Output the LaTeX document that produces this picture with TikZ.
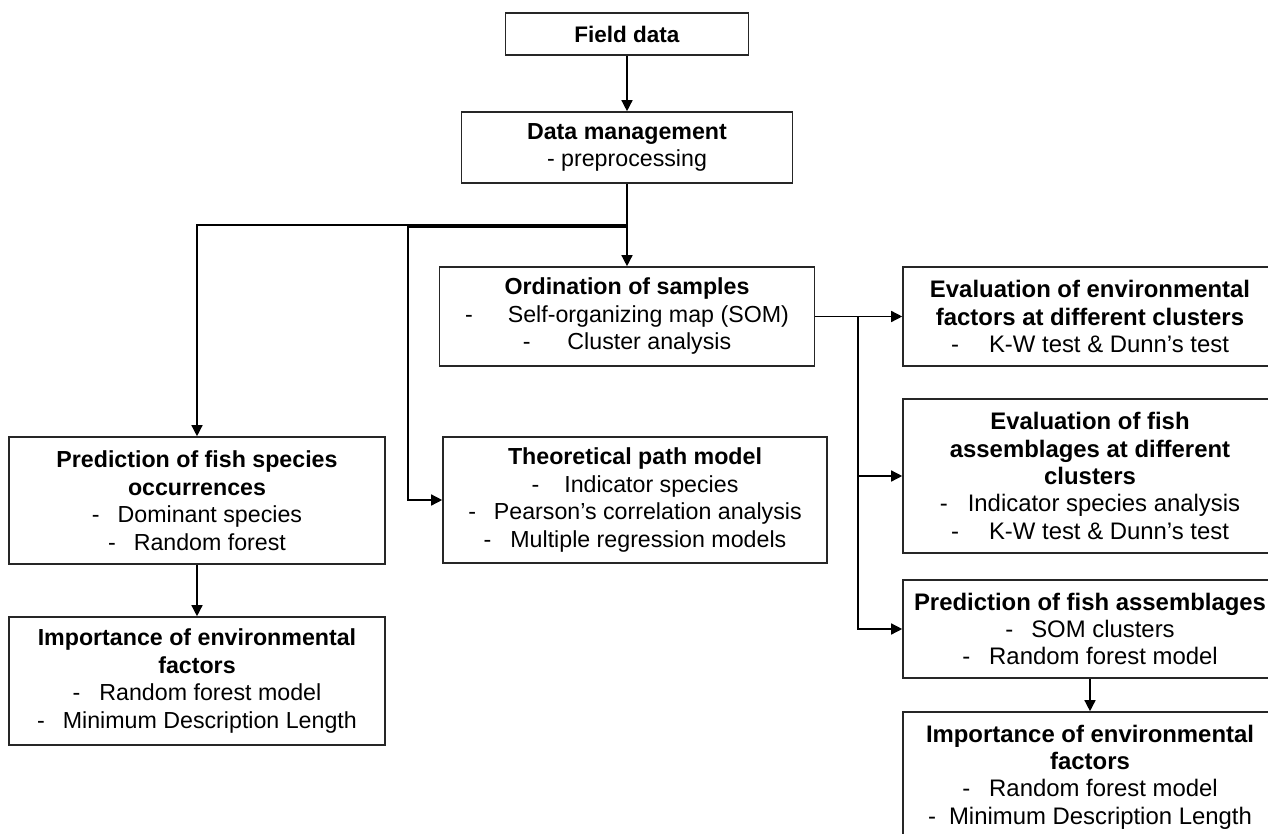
\documentclass[tikz,border=0pt]{standalone}
\usepackage{fontspec}
\setmainfont{Liberation Sans}
\usetikzlibrary{arrows.meta}
\newcommand{\dl}[2]{-\hspace{#1pt}#2}
\begin{document}
\begin{tikzpicture}[x=1pt,y=-1pt,
  box/.style={draw=black!85, line width=1.6pt, inner sep=0pt, align=center,
    font=\fontsize{23.2}{27.5}\selectfont},
  rbox/.style={box, font=\fontsize{23.9}{27.3}\selectfont},
  arr/.style={line width=1.4pt, -{Triangle[length=11pt,width=11pt]}}]
\useasboundingbox (0,0) rectangle (1268,834);
\clip (0,0) rectangle (1268,834);
\fill[white] (0,0) rectangle (1268,834);

\node[box, font=\fontsize{22.5}{27}\selectfont, minimum width=243, minimum height=42] (fd) at (627,34) {\textbf{Field data}};
\node[box, minimum width=331, minimum height=71] (dm) at (627,147.5) {\textbf{Data management}\\- preprocessing};
\node[box, minimum width=375, minimum height=99] (ord) at (627,316.5)
  {\textbf{Ordination of samples}\\\dl{35}{Self-organizing map (SOM)}\\\dl{37}{Cluster analysis}};
\node[box, minimum width=384, minimum height=126] (theo) at (635,500)
  {\textbf{Theoretical path model}\\\dl{25}{Indicator species}\\\dl{18}{Pearson’s correlation analysis}\\\dl{19}{Multiple regression models}};
\node[box, minimum width=376, minimum height=127] (psp) at (197,500.5)
  {\textbf{Prediction of fish species}\\\textbf{occurrences}\\\dl{18}{Dominant species}\\\dl{18}{Random forest}};
\node[box, minimum width=376, minimum height=128] (imp1) at (197,681)
  {\textbf{Importance of environmental}\\\textbf{factors}\\\dl{19}{Random forest model}\\\dl{18}{Minimum Description Length}};
\node[rbox, minimum width=374, minimum height=99] (env) at (1090,316.5)
  {\textbf{Evaluation of environmental}\\\textbf{factors at different clusters}\\\dl{30}{K-W test \& Dunn’s test}};
\node[rbox, minimum width=374, minimum height=154] (fish) at (1090,476)
  {\textbf{Evaluation of fish}\\\textbf{assemblages at different}\\\textbf{clusters}\\\dl{20}{Indicator species analysis}\\\dl{30}{K-W test \& Dunn’s test}};
\node[rbox, minimum width=374, minimum height=98] (pas) at (1090,629)
  {\textbf{Prediction of fish assemblages}\\\dl{18}{SOM clusters}\\\dl{19}{Random forest model}};
\node[rbox, minimum width=374, minimum height=130] (imp2) at (1090,777)
  {\textbf{Importance of environmental}\\\textbf{factors}\\\dl{19}{Random forest model}\\\dl{13}{Minimum Description Length}};

\coordinate (b1) at (627,225);
\coordinate (b2) at (627,227);
\coordinate (t1) at (408,227);
\coordinate (s1) at (858,317);

\draw[arr] (fd.south) -- (dm.north);
\draw[arr] (dm.south) -- (ord.north);
\draw[arr] (b1) -| (psp.north);
\draw[arr] (b2) -- (t1) |- (theo.west);
\draw[arr] (psp.south) -- (imp1.north);
\draw[arr] (ord.east) -- (env.west);
\draw[arr] (s1) |- (fish.west);
\draw[arr] (s1) |- (pas.west);
\draw[arr] (pas.south) -- (imp2.north);
\end{tikzpicture}
\end{document}
